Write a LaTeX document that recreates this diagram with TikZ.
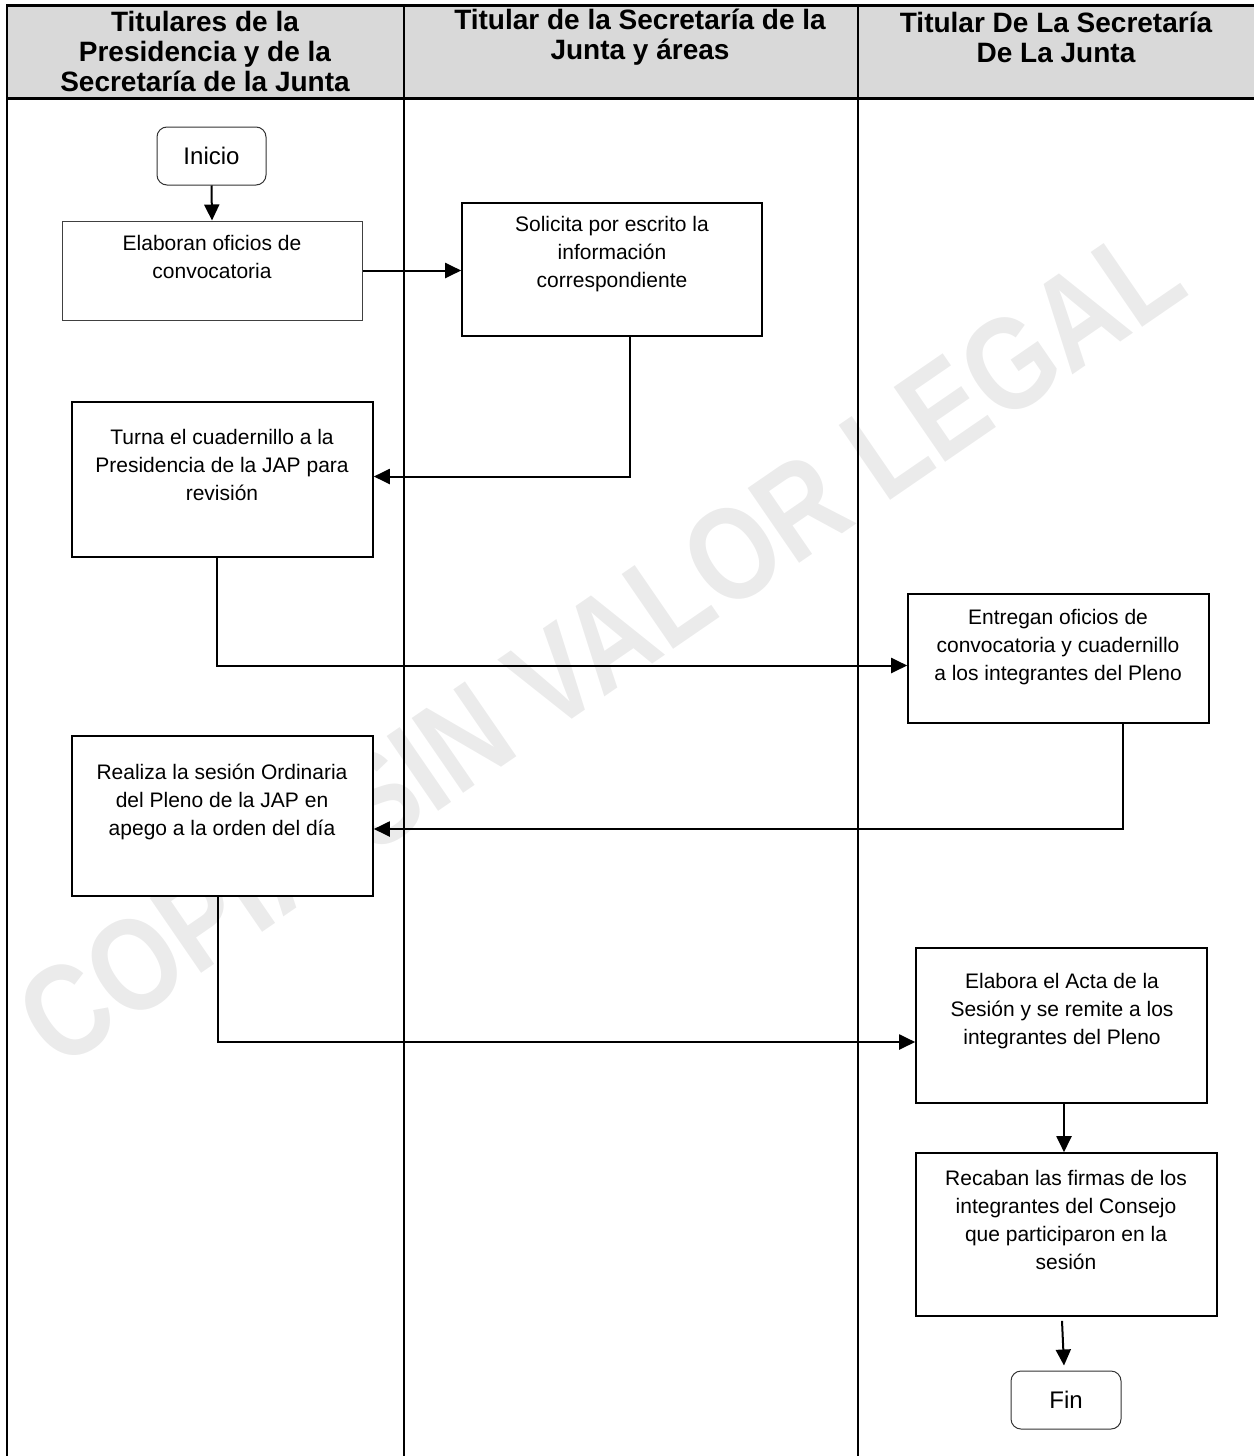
\documentclass[tikz,border=0pt]{standalone}
\usepackage{fontspec}
\setmainfont{Liberation Sans}
\usetikzlibrary{arrows.meta,calc}

\definecolor{headgray}{HTML}{D9D9D9}
\definecolor{markgray}{HTML}{EBEBEB}

\tikzset{
  frame/.style={line width=2pt, black},
  headline/.style={line width=2.6pt, black},
  procbox/.style={draw, line width=1.6pt, fill=white, inner sep=0pt},
  thinbox/.style={draw=black!75, line width=1pt, fill=white, inner sep=0pt},
  termbox/.style={draw=black!80, line width=1pt, fill=white, rounded corners=10pt, inner sep=0pt},
  boxtext/.style={align=center, inner sep=0pt, font=\fontsize{21}{28}\selectfont},
  termtext/.style={inner sep=0pt, font=\fontsize{24}{28}\selectfont},
  headtext/.style={align=center, inner sep=0pt, font=\fontsize{28}{30}\selectfont\bfseries},
  flow/.style={line width=2pt, -{Triangle[length=16pt,width=15pt]}},
  watermark/.style={text=markgray, font=\fontsize{110}{114}\selectfont\bfseries}
}

\begin{document}
\begin{tikzpicture}[x=1pt, y=-1pt]
\useasboundingbox (0,0) rectangle (1254,1456);

% header band
\fill[headgray] (7,5) rectangle (1254,99);

% watermark
\node[watermark, rotate=34.5, yscale=1.2] (wm) at (600,645) {COPIA SIN VALOR LEGAL};

% lane borders
\draw[frame] (7,4) -- (7,1456);
\draw[frame] (403.5,5) -- (403.5,1456);
\draw[frame] (858,5) -- (858,1456);
\draw[headline] (6,5.3) -- (1254,5.3);
\draw[headline] (6,98.5) -- (1254,98.5);

% lane titles
\node[headtext] (h1) at (205,51) {Titulares de la\\Presidencia y de la\\Secretaría de la Junta};
\node[headtext] (h2) at (640,37) {Titular de la Secretaría de la\\Junta y áreas};
\node[headtext] (h3) at (1056,37) {Titular De La Secretaría\\De La Junta};

% boxes
\node[termbox, minimum width=109pt, minimum height=58pt] (ini) at (211.5,156) {};
\node[thinbox, minimum width=300pt, minimum height=99pt] (elab) at (212,270.5) {};
\node[procbox, minimum width=300pt, minimum height=133pt] (sol) at (612,269.5) {};
\node[procbox, minimum width=301pt, minimum height=155pt] (turna) at (222.5,479.5) {};
\node[procbox, minimum width=301pt, minimum height=129pt] (ent) at (1058.5,658.5) {};
\node[procbox, minimum width=301pt, minimum height=160pt] (real) at (222.5,816) {};
\node[procbox, minimum width=291pt, minimum height=155pt] (acta) at (1061.5,1025.5) {};
\node[procbox, minimum width=301pt, minimum height=163pt] (rec) at (1066.5,1234.5) {};
\node[termbox, minimum width=110pt, minimum height=58pt] (fin) at (1066,1400) {};

% box texts
\node[termtext] (ini-t) at (ini.center) {Inicio};
\node[boxtext] (elab-t) at (212,257) {Elaboran oficios de\\convocatoria};
\node[boxtext] (sol-t) at (612,254) {Solicita por escrito la\\información\\correspondiente};
\node[boxtext] (turna-t) at (222,465) {Turna el cuadernillo a la\\Presidencia de la JAP para\\revisión};
\node[boxtext] (ent-t) at (1058,647) {Entregan oficios de\\convocatoria y cuadernillo\\a los integrantes del Pleno};
\node[boxtext] (real-t) at (222,802) {Realiza la sesión Ordinaria\\del Pleno de la JAP en\\apego a la orden del día};
\node[boxtext] (acta-t) at (1062,1011) {Elabora el Acta de la\\Sesión y se remite a los\\integrantes del Pleno};
\node[boxtext] (rec-t) at (1066,1220) {Recaban las firmas de los\\integrantes del Consejo\\que participaron en la\\sesión};
\node[termtext] (fin-t) at (fin.center) {Fin};

% connectors
\draw[flow] (ini.south) -- (elab.north);
\draw[flow] (elab.east) -- (elab.east -| sol.west);
\draw[flow] ($(sol.south)+(18,0)$) |- ($(turna.east)+(0,-3)$);
\draw[flow] ($(turna.south)+(-6,0)$) |- ($(ent.west)+(0,7)$);
\draw[flow] ($(ent.south)+(64.5,0)$) |- ($(real.east)+(0,13)$);
\draw[flow] ($(real.south)+(-4.5,0)$) |- ($(acta.west)+(0,16.5)$);
\draw[flow] ($(acta.south)+(2.5,0)$) -- ($(rec.north)+(-2.5,0)$);
\coordinate (recout) at ($(rec.south)+(-4.5,4)$);
\coordinate (finin) at ($(fin.north)+(-2,-5)$);
\draw[flow] (recout) -- (finin);
\end{tikzpicture}
\end{document}
